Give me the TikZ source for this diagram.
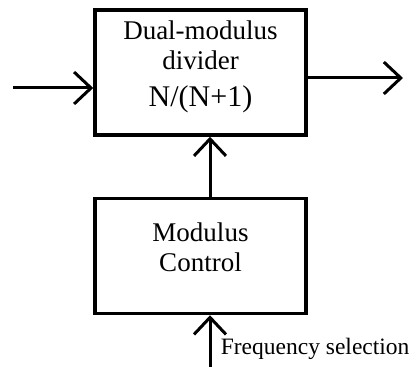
\documentclass[tikz,border=0pt]{standalone}
\usepackage{fontspec}
\setmainfont{Liberation Serif}
\usetikzlibrary{arrows.meta,positioning}

\begin{document}
\begin{tikzpicture}[x=1pt,y=1pt,>={Straight Barb[length=17pt,width=32pt]},line width=3pt,node distance=60pt]
\tikzstyle{block}=[draw,line width=3.5pt,minimum width=211pt,minimum height=125pt,text depth=18pt,align=center,font=\fontsize{27}{30}\selectfont]
\useasboundingbox (0,0) rectangle (416,367);

\node[block]                      (div)             at (200.5,294.5) {Dual-modulus\\divider\\[7pt]{\fontsize{30}{34}\selectfont N/(N+1)}};
\node[block,minimum height=115pt] (ctl) [below=of div] {Modulus\\Control};

% free ends of the signal lines
\coordinate (in)  at (13,279);
\coordinate (out) at (403,289);
\coordinate (fs)  at (210,0);

\draw[->] (in) -- (in -| div.west);
\draw[->] (out -| div.east) -- (out);
\draw[->] (fs |- ctl.north) -- (fs |- div.south);
\draw[->] (fs) -- (fs |- ctl.south);

\node[anchor=base west,font=\fontsize{23.5}{26}\selectfont] (fsl) at (216,12) {Frequency selection};
\end{tikzpicture}
\end{document}
